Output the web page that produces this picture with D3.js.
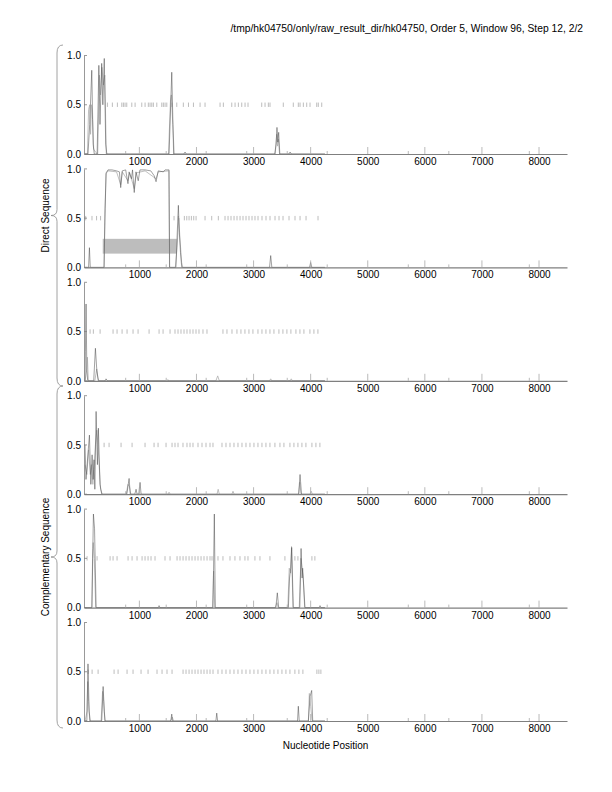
<!DOCTYPE html>
<html>
<head>
<meta charset="utf-8">
<script src="https://cdn.jsdelivr.net/npm/d3@7"></script>
<style>
  body { margin: 0; background: #fff; }
  svg { font-family: "Liberation Sans", Arial, sans-serif; }
</style>
</head>
<body>
<svg id="chart" width="612" height="792"></svg>
<script>
// chart data

var title = "/tmp/hk04750/only/raw_result_dir/hk04750, Order 5, Window 96, Step 12, 2/2";
var xLabel = "Nucleotide Position";
var groupLabels = ["Direct Sequence", "Complementary Sequence"];

var xDomain = [30, 8490];
var xTicks = [1000, 2000, 3000, 4000, 5000, 6000, 7000, 8000];
var xMinorTicks = [760, 1470, 2170, 2880, 3590, 4290, 5710, 6420, 7830];
var yTicks = [0, 0.5, 1];

// stop marks drawn at 0.5
var marks1 = [440,527,615,692,720,749,779,867,925,1042,1100,1157,1187,1217,1245,1305,1392,1420,1450,1480,1567,1655,1770,1860,1947,2063,2150,2413,2471,2618,2676,2734,2793,2851,2903,3143,3201,3259,3288,3521,3696,3784,3814,3872,3931,3989,4106,4134,4194];
var marks2 = [60,170,250,320,1607,1683,1788,1830,1870,1911,1952,1993,2150,2267,2383,2500,2553,2605,2658,2710,2763,2815,2868,2920,2973,3025,3078,3148,3218,3288,3376,3446,3516,3621,3726,3814,3919,4129];
var marks3 = [137,194,312,539,609,697,784,889,977,1170,1345,1415,1537,1624,1677,1729,1782,1834,1887,1939,1992,2044,2114,2184,2464,2534,2622,2709,2779,2849,2919,2989,3077,3147,3217,3287,3357,3444,3514,3584,3654,3742,3812,3882,3987,4057,4127];
var marks4 = [382,469,679,872,1099,1257,1327,1467,1572,1624,1677,1764,1834,1887,1939,2027,2097,2167,2237,2289,2447,2517,2587,2657,2727,2797,2867,2937,3007,3077,3147,3217,3287,3374,3462,3532,3637,3707,3777,3847,3917,4022,4092,4162];
var marks5 = [84,259,487,539,609,802,872,959,1047,1099,1152,1204,1274,1449,1537,1660,1712,1765,1817,1870,1922,1975,2027,2080,2132,2185,2237,2272,2377,2464,2587,2674,2762,2849,2902,3024,3112,3287,3549,3724,3777,4022,4074];
var marks6 = [102,172,277,557,627,784,889,1029,1152,1309,1397,1484,1572,1765,1817,1870,1922,1975,2027,2080,2132,2185,2237,2290,2377,2447,2517,2587,2657,2727,2797,2867,2937,3007,3077,3147,3217,3287,3357,3427,3497,3567,3637,3724,3794,3864,4109,4144,4179];

// [position, value] pairs, dark and light curve of each panel
var dark1 = [[48,0],[100,0],[130,0.3],[166,0.85],[190,0.1],[210,0],[260,0],[290,0.9],[310,0.3],[340,0.92],[360,0.5],[385,0.97],[410,0.1],[430,0],[1520,0],[1567,0.83],[1600,0],[1780,0],[1800,0.02],[1820,0],[3370,0],[3395,0.1],[3410,0.27],[3425,0.12],[3440,0.22],[3460,0],[3620,0],[3640,0.02],[3660,0],[4250,0]];
var light1 = [[48,0],[90,0],[110,0.45],[130,0.5],[145,0.2],[160,0.5],[180,0.35],[200,0.05],[230,0.02],[270,0],[300,0.8],[320,0.6],[345,0.88],[370,0.7],[395,0.8],[420,0],[1510,0],[1545,0.55],[1560,0.6],[1585,0.3],[1610,0],[3380,0],[3405,0.2],[3420,0.08],[3435,0.15],[3455,0],[4250,0]];

var dark2 = [[48,0],[110,0],[125,0.2],[140,0],[382,0],[400,0.6],[418,0.96],[450,0.99],[520,0.99],[600,0.98],[650,0.97],[673,0.81],[700,0.98],[760,0.99],[800,0.85],[820,0.97],[861,0.9],[880,0.99],[910,0.76],[940,0.97],[980,0.88],[1010,0.99],[1100,0.99],[1200,0.98],[1260,0.93],[1292,0.87],[1330,0.98],[1420,0.97],[1450,0.99],[1520,0.99],[1530,0],[1640,0],[1660,0.3],[1683,0.63],[1700,0.35],[1720,0.15],[1742,0],[3280,0],[3300,0.12],[3320,0],[3980,0],[4000,0.05],[4020,0],[4250,0]];
var light2 = [[48,0],[380,0],[395,0.5],[415,0.95],[450,0.98],[600,0.97],[673,0.84],[700,0.97],[800,0.88],[830,0.96],[910,0.8],[950,0.96],[1100,0.98],[1292,0.9],[1330,0.97],[1515,0.98],[1528,0],[1630,0],[1660,0.2],[1690,0.5],[1710,0.3],[1740,0.05],[1760,0],[4250,0]];

var dark3 = [[48,0],[55,0.3],[66,0.78],[80,0.1],[95,0],[200,0],[230,0.33],[255,0.1],[280,0],[400,0],[416,0.02],[440,0],[1480,0],[1500,0.01],[1520,0],[4250,0]];
var light3 = [[48,0],[75,0.1],[90,0.24],[105,0],[220,0],[253,0.12],[275,0.03],[290,0],[2340,0],[2372,0.05],[2400,0],[3280,0],[3300,0.02],[3320,0],[3640,0],[3660,0.02],[3680,0],[4250,0]];

var dark4 = [[48,0.5],[65,0.15],[125,0.6],[150,0.1],[172,0.4],[190,0.15],[206,0.35],[220,0.05],[242,0.84],[265,0.3],[282,0.67],[310,0.1],[341,0],[780,0],[820,0.16],[840,0],[920,0],[942,0.05],[960,0],[990,0],[1012,0.12],[1030,0],[3790,0],[3814,0.2],[3840,0],[4250,0]];
var light4 = [[48,0.3],[80,0.2],[110,0.45],[140,0.2],[160,0.3],[185,0.1],[200,0.25],[230,0.5],[255,0.65],[275,0.5],[295,0.3],[320,0.05],[350,0],[770,0],[800,0.1],[825,0.08],[850,0],[1500,0],[1520,0.02],[1540,0],[2360,0],[2380,0.05],[2400,0],[2620,0],[2640,0.03],[2660,0],[3790,0],[3810,0.12],[3830,0],[3990,0],[4010,0.03],[4030,0],[4250,0]];

var dark5 = [[48,0],[170,0],[185,0.6],[195,0.95],[215,0.8],[242,0],[1330,0],[1345,0.02],[1360,0],[2290,0],[2313,0.95],[2330,0],[3390,0],[3416,0.15],[3440,0],[3610,0],[3630,0.3],[3650,0.4],[3668,0.61],[3696,0],[3810,0],[3832,0.6],[3850,0.3],[3860,0.4],[3900,0],[4150,0],[4164,0.02],[4180,0],[4250,0]];
var light5 = [[48,0],[165,0],[180,0.5],[192,0.66],[210,0.5],[235,0],[2280,0],[2300,0.37],[2320,0],[3380,0],[3410,0.05],[3430,0],[3600,0],[3625,0.4],[3650,0.35],[3665,0.62],[3690,0],[3800,0],[3830,0.5],[3850,0.4],[3870,0.3],[3895,0],[4250,0]];

var dark6 = [[48,0],[80,0],[100,0.58],[120,0.1],[140,0],[340,0],[365,0.35],[385,0.1],[400,0],[1550,0],[1567,0.07],[1580,0],[2340,0],[2355,0.08],[2370,0],[3770,0],[3784,0.15],[3800,0],[3960,0],[3990,0.25],[4018,0.31],[4036,0],[4250,0]];
var light6 = [[48,0],[85,0.1],[95,0.4],[110,0.2],[130,0],[330,0],[355,0.3],[375,0.2],[395,0],[1550,0],[1575,0.04],[1600,0],[3960,0],[3977,0.28],[4000,0.15],[4025,0],[4250,0]];

// shaded region in panel 2: [x0, x1, y0, y1]
var band2 = [358, 1654, 0.14, 0.29];

var panels = [
  { marks: marks1, dark: dark1, light: light1 },
  { marks: marks2, dark: dark2, light: light2, band: band2 },
  { marks: marks3, dark: dark3, light: light3 },
  { marks: marks4, dark: dark4, light: light4 },
  { marks: marks5, dark: dark5, light: light5 },
  { marks: marks6, dark: dark6, light: light6 }
];

// layout
var svg = d3.select("#chart");
var left = 84, right = 567;
var firstTop = 55.5, panelStep = 113.4, panelHeight = 98.5;
var axisColor = "#7f7f7f";

var xScale = d3.scaleLinear().domain(xDomain).range([left, right]);

svg.append("text")
  .attr("x", 583).attr("y", 32)
  .attr("text-anchor", "end")
  .style("font-size", "10.3px")
  .text(title);

panels.forEach(function (p, i) {
  var top = firstTop + i * panelStep;
  var bottom = top + panelHeight;
  var yScale = d3.scaleLinear().domain([0, 1]).range([bottom, top]);
  var g = svg.append("g");

  if (p.band) {
    g.append("rect")
      .attr("x", xScale(p.band[0]))
      .attr("width", xScale(p.band[1]) - xScale(p.band[0]))
      .attr("y", yScale(p.band[3]))
      .attr("height", yScale(p.band[2]) - yScale(p.band[3]))
      .style("fill", "#bdbdbd");
  }

  // stop marks
  g.selectAll(".mark")
    .data(p.marks)
    .enter()
    .append("line")
    .attr("class", "mark")
    .attr("x1", d => xScale(d)).attr("x2", d => xScale(d))
    .attr("y1", yScale(0.5) - 2.2).attr("y2", yScale(0.5) + 2.2)
    .style("stroke", "#a0a0a0")
    .style("stroke-width", 0.7);

  var line = d3.line().x(d => xScale(d[0])).y(d => yScale(d[1]));

  g.append("path")
    .attr("d", line(p.light))
    .style("fill", "none")
    .style("stroke", "#b0b0b0")
    .style("stroke-width", 0.8);

  g.append("path")
    .attr("d", line(p.dark))
    .style("fill", "none")
    .style("stroke", "#444")
    .style("stroke-width", 0.5);

  // x axis
  var xAxis = d3.axisBottom(xScale).tickValues(xTicks).tickSize(0).tickPadding(4).tickFormat(d3.format("d"));
  var xg = g.append("g").attr("transform", "translate(0," + bottom + ")").call(xAxis);
  xg.select(".domain").style("stroke", axisColor).style("stroke-width", 1.2);
  xg.selectAll("text").style("font-size", "10px").style("fill", "#000");

  g.selectAll(".majorTick")
    .data(xTicks)
    .enter()
    .append("line")
    .attr("x1", d => xScale(d)).attr("x2", d => xScale(d))
    .attr("y1", bottom).attr("y2", bottom - 7)
    .style("stroke", "#a8a8a8").style("stroke-width", 0.8);

  g.selectAll(".minorTick")
    .data(xMinorTicks)
    .enter()
    .append("line")
    .attr("x1", d => xScale(d)).attr("x2", d => xScale(d))
    .attr("y1", bottom).attr("y2", bottom - 3)
    .style("stroke", "#a8a8a8").style("stroke-width", 0.8);

  // y axis
  var yAxis = d3.axisLeft(yScale).tickValues(yTicks).tickSize(0).tickPadding(3).tickFormat(d3.format(".1f"));
  var yg = g.append("g").attr("transform", "translate(" + left + ",0)").call(yAxis);
  yg.select(".domain").style("stroke", axisColor).style("stroke-width", 0.8);
  yg.selectAll("text").style("font-size", "10px").style("fill", "#000");

  g.selectAll(".yTick")
    .data(yTicks)
    .enter()
    .append("line")
    .attr("x1", left).attr("x2", left + 3)
    .attr("y1", d => yScale(d)).attr("y2", d => yScale(d))
    .style("stroke", axisColor).style("stroke-width", 0.8);
});

svg.append("text")
  .attr("x", (left + right) / 2).attr("y", 749)
  .attr("text-anchor", "middle")
  .style("font-size", "10px")
  .text(xLabel);

// curly braces grouping the panels
function brace(y0, y1) {
  var xm = 57, xe = 63, xt = 51;
  var ym = (y0 + y1) / 2;
  return "M" + xe + "," + y0 +
    " Q" + xm + "," + y0 + " " + xm + "," + (y0 + 8) +
    " L" + xm + "," + (ym - 6) +
    " Q" + xm + "," + ym + " " + xt + "," + ym +
    " Q" + xm + "," + ym + " " + xm + "," + (ym + 6) +
    " L" + xm + "," + (y1 - 8) +
    " Q" + xm + "," + y1 + " " + xe + "," + y1;
}

var braceSpans = [[45, 386], [386, 728]];
braceSpans.forEach(function (s, i) {
  svg.append("path")
    .attr("d", brace(s[0], s[1]))
    .style("fill", "none")
    .style("stroke", "#8a8a8a")
    .style("stroke-width", 0.8);
  var ym = (s[0] + s[1]) / 2;
  svg.append("text")
    .attr("transform", "translate(49," + ym + ") rotate(-90)")
    .attr("text-anchor", "middle")
    .style("font-size", "10px")
    .text(groupLabels[i]);
});
</script>
</body>
</html>
